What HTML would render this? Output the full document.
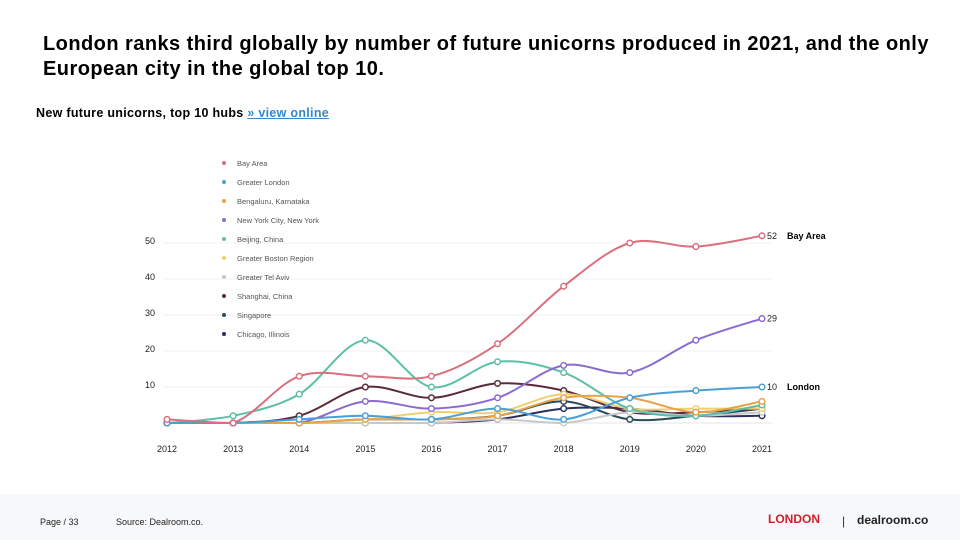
<!DOCTYPE html>
<html><head><meta charset="utf-8"><style>
body{margin:0;width:960px;height:540px;background:#fff;font-family:"Liberation Sans","Noto Sans CJK SC",sans-serif;overflow:hidden;position:relative}
#title{position:absolute;left:43px;top:32px;font-size:20px;letter-spacing:0.45px;font-weight:bold;color:#000;line-height:25px;width:910px}
#sub{position:absolute;left:36px;top:106px;font-size:12.5px;letter-spacing:0.3px;font-weight:bold}
#sub a{color:#3a86c8;text-decoration:underline}
#footer{position:absolute;left:0;top:494px;width:960px;height:46px;background:#f7f8fa}
.ft{position:absolute;font-size:9px;color:#222}
</style></head><body>
<div id="title">London ranks third globally by number of future unicorns produced in 2021, and the only European city in the global top 10.</div>
<div id="sub">New future unicorns, top 10 hubs <a>» view online</a></div>
<svg id="chart" width="960" height="540" style="position:absolute;left:0;top:0"></svg>
<div id="footer">
<div class="ft" style="left:40px;top:23px">Page / 33</div>
<div class="ft" style="left:116px;top:23px">Source: Dealroom.co.</div>
<div style="position:absolute;left:768px;top:18px;color:#d0202f;font-weight:bold;font-size:12px">LONDON</div>
<div style="position:absolute;left:842px;top:20px;font-size:12px;color:#333">|</div>
<div style="position:absolute;left:857px;top:19px;font-size:12px;font-weight:bold;color:#222">dealroom.co</div>
</div>
<script>
const years=[2012,2013,2014,2015,2016,2017,2018,2019,2020,2021];
const names=["Bay Area","Greater London","Bengaluru, Karnataka","New York City, New York","Beijing, China","Greater Boston Region","Greater Tel Aviv","Shanghai, China","Singapore","Chicago, Illinois"];
const colors=["#d9707f","#4a9fd6","#e8a24a","#8c6bd1","#5dbfa6","#f2cf6e","#c8c8c8","#5a2a3a","#2a4a5a","#2c2f5e"];
const bayArea=[1,0,13,13,13,22,38,50,49,52];
const london=[0,0,1,2,1,4,1,7,9,10];
const bengaluru=[0,0,0,1,1,2,7,7,3,6];
const nyc=[0,0,0,6,4,7,16,14,23,29];
const beijing=[0,2,8,23,10,17,14,4,2,5];
const boston=[0,0,0,1,3,3,8,4,4,4];
const telAviv=[0,0,0,0,0,1,0,3,2,3];
const shanghai=[0,0,2,10,7,11,9,3,3,4];
const singapore=[0,0,0,1,1,2,6,1,2,4];
const chicago=[0,0,0,0,0,1,4,4,2,2];
const series=[bayArea,london,bengaluru,nyc,beijing,boston,telAviv,shanghai,singapore,chicago];
const yTicks=[10,20,30,40,50];
const NS="http://www.w3.org/2000/svg";
const svg=document.getElementById('chart');
const x=i=>167+i*(762-167)/9;
const y=v=>423-3.6*v;
function mk(t,a){const e=document.createElementNS(NS,t);for(const k in a)e.setAttribute(k,a[k]);svg.appendChild(e);return e;}
let g=mk('line',{x1:163,x2:772,y1:y(0),y2:y(0),stroke:'#e6e6e6'});


yTicks.forEach(t=>{
 const l=mk('line',{x1:163,x2:772,y1:y(t),y2:y(t),stroke:'#f0f0f0'});
 
 
 const tx=mk('text',{x:145,y:y(t)+1,'font-size':9,fill:'#222'});tx.textContent=t;
 
 
});
years.forEach((yr,i)=>{
 const tx=mk('text',{x:x(i),y:452,'font-size':9,fill:'#222','text-anchor':'middle'});tx.textContent=yr;
 
 
});
function path(d){
 const p=d.map((v,i)=>[x(i),y(v)]);let s=`M${p[0][0]},${p[0][1]}`;
 const base=y(0);
 for(let i=0;i<p.length-1;i++){const p0=p[i-1]||p[i],p1=p[i],p2=p[i+1],p3=p[i+2]||p2;
  const c1=[p1[0]+(p2[0]-p0[0])/6,Math.min(base,p1[1]+(p2[1]-p0[1])/6)],c2=[p2[0]-(p3[0]-p1[0])/6,Math.min(base,p2[1]-(p3[1]-p1[1])/6)];
  s+=` C${c1[0]},${c1[1]} ${c2[0]},${c2[1]} ${p2[0]},${p2[1]}`;}
 return s;}
for(let k=series.length-1;k>=0;k--){
 const d=series[k];
 const pth=mk('path',{d:path(d),fill:'none',stroke:colors[k],'stroke-width':2});
 
 
 d.forEach((v,i)=>{const c=mk('circle',{cx:x(i),cy:y(v),r:2.8,fill:'#fff',stroke:colors[k],'stroke-width':1.5});
  
  });
}
[[0,'Bay Area'],[3,''],[1,'London']].forEach(([k,lab])=>{
 const v=series[k][9];
 const t=mk('text',{x:767,y:y(v)+3,'font-size':9,fill:'#222'});t.textContent=v;
 
 
 if(lab){const t2=mk('text',{x:787,y:y(v)+3,'font-size':9,'font-weight':'bold',fill:'#000'});t2.textContent=lab;
  
  }
});
names.forEach((n,k)=>{
 const cy=163+k*19;
 const c=mk('circle',{cx:224,cy:cy,r:2,fill:colors[k]});
 
 
 const t=mk('text',{x:237,y:cy+3,'font-size':7.5,fill:'#555'});t.textContent=n;
 
 
});
</script>
</body></html>
